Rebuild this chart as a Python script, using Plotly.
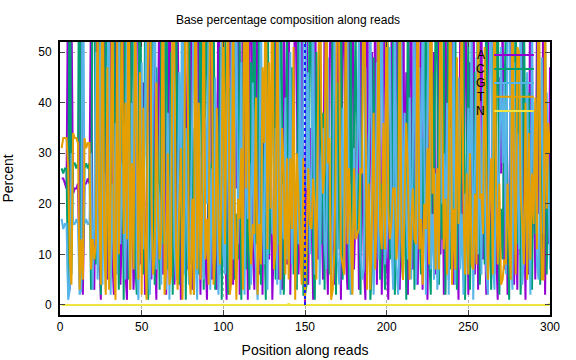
import plotly.graph_objects as go

# ---------------- data (percent per position) ----------------
A = [25, 25, 24, 23, 70, 3, 60, 22, 23, 23, 24, 5, 80, 2, 24, 24, 25, 24, 60, 4,
     3, 28, 64, 12, 1, 40, 72, 18, 5, 33,
     60, 9, 2, 46, 80, 22, 4, 15, 58, 7,
     1, 37, 70, 26, 3, 12, 55, 90, 8, 19,
     44, 2, 16, 62, 30, 5, 77, 11, 1, 35,
     68, 20, 6, 48, 2, 25, 84, 14, 39, 4,
     9, 57, 31, 1, 17, 66, 43, 7, 21, 75,
     3, 13, 50, 88, 24, 2, 36, 61, 10, 1,
     29, 73, 5, 18, 42, 3, 69, 27, 6, 52,
     15, 1, 38, 79, 12, 4, 47, 23, 58, 2,
     20, 65, 8, 31, 1, 54, 86, 11, 3, 40,
     71, 6, 26, 2, 45, 19, 63, 9, 34, 1,
     14, 49, 76, 5, 22, 3, 59, 37, 8, 67,
     2, 30, 12, 82, 41, 6, 18, 55, 27, 0,
     62, 4, 35, 16, 1, 74, 28, 9, 47, 21,
     5, 58, 17, 2, 39, 81, 13, 4, 26, 64,
     33, 1, 48, 70, 10, 3, 56, 24, 87, 7,
     19, 42, 3, 60, 29, 8, 1, 75, 15, 36,
     50, 11, 67, 4, 22, 44, 2, 31, 78, 9,
     1, 27, 53, 16, 5, 69, 38, 3, 20, 84,
     12, 46, 2, 32, 72, 7, 18, 57, 4, 25,
     63, 3, 41, 9, 1, 28, 77, 14, 50, 6,
     22, 80, 10, 35, 2, 61, 19, 5, 43, 68,
     4, 30, 15, 1, 54, 24, 8, 71, 36, 2,
     48, 12, 83, 6, 27, 3, 40, 60, 9, 17,
     2, 65, 21, 5, 34, 89, 11, 1, 45, 26,
     58, 7, 30, 2, 16, 52, 74, 4, 20, 3,
     37, 10, 62, 23, 1, 44, 6, 79, 13, 29,
     5, 55, 18, 40, 8, 70, 2, 33, 12, 47]

C = [27, 26, 27, 27, 2, 85, 6, 28, 28, 27, 28, 90, 4, 8, 27, 28, 27, 28, 3, 80,
     70, 8, 21, 55, 2, 34, 11, 62, 28, 4,
     17, 45, 81, 6, 26, 3, 59, 38, 1, 73,
     30, 5, 14, 66, 42, 9, 2, 24, 85, 13,
     6, 52, 36, 1, 18, 77, 29, 4, 47, 20,
     3, 61, 12, 25, 88, 7, 15, 50, 2, 33,
     74, 19, 4, 40, 10, 56, 1, 27, 68, 8,
     35, 2, 57, 14, 6, 80, 23, 3, 44, 62,
     9, 28, 16, 70, 3, 37, 12, 51, 1, 24,
     67, 13, 2, 43, 31, 75, 5, 18, 9, 56,
     1, 39, 64, 7, 22, 3, 48, 29, 70, 12,
     26, 58, 4, 33, 15, 1, 82, 10, 20, 46,
     63, 5, 27, 12, 71, 38, 2, 16, 54, 9,
     19, 47, 6, 24, 3, 60, 14, 35, 2, 2,
     4, 23, 69, 41, 9, 1, 50, 17, 76, 12,
     38, 3, 57, 21, 6, 15, 66, 30, 2, 44,
     11, 72, 5, 18, 49, 27, 3, 61, 8, 35,
     55, 14, 26, 2, 40, 78, 20, 6, 33, 1,
     7, 49, 11, 30, 62, 5, 24, 13, 3, 70,
     36, 9, 18, 58, 2, 14, 44, 80, 10, 5,
     29, 1, 63, 22, 8, 41, 3, 27, 52, 17,
     6, 33, 15, 74, 25, 10, 2, 46, 18, 61,
     48, 4, 29, 13, 57, 2, 35, 68, 7, 20,
     16, 59, 3, 38, 11, 43, 70, 1, 24, 53,
     3, 22, 9, 46, 16, 79, 4, 12, 34, 8,
     66, 28, 14, 3, 51, 6, 37, 72, 2, 19,
     9, 40, 56, 17, 1, 31, 8, 23, 64, 12,
     47, 2, 18, 60, 27, 5, 42, 10, 3, 35,
     14, 26, 73, 4, 38, 11, 54, 6, 29, 16]

G = [17, 15, 16, 16, 1, 3, 30, 16, 16, 17, 16, 2, 3, 85, 16, 17, 16, 16, 30, 3,
     18, 50, 5, 13, 77, 4, 26, 3, 44, 60,
     2, 24, 9, 36, 6, 65, 12, 28, 17, 5,
     56, 14, 3, 40, 27, 70, 8, 1, 22, 48,
     11, 33, 62, 9, 2, 16, 43, 75, 7, 24,
     20, 4, 54, 15, 3, 38, 1, 30, 57, 12,
     5, 18, 46, 28, 72, 6, 35, 13, 4, 15,
     41, 64, 9, 1, 30, 11, 22, 5, 37, 20,
     58, 3, 27, 8, 45, 19, 2, 14, 66, 10,
     6, 42, 21, 3, 52, 9, 30, 61, 12, 25,
     48, 11, 2, 39, 17, 28, 4, 44, 13, 7,
     1, 20, 62, 18, 8, 55, 3, 33, 27, 14,
     16, 35, 4, 60, 2, 24, 13, 41, 9, 19,
     50, 8, 31, 3, 26, 12, 57, 6, 42, 98,
     23, 46, 10, 28, 65, 6, 17, 38, 4, 29,
     35, 12, 7, 49, 22, 3, 18, 55, 40, 9,
     4, 17, 39, 6, 26, 58, 14, 2, 3, 31,
     13, 30, 56, 11, 5, 7, 47, 16, 28, 60,
     26, 2, 15, 48, 9, 36, 63, 20, 8, 14,
     44, 51, 12, 3, 70, 8, 2, 13, 54, 6,
     38, 17, 9, 41, 5, 29, 66, 4, 20, 47,
     14, 60, 24, 2, 43, 54, 7, 18, 5, 26,
     3, 9, 52, 20, 30, 16, 40, 2, 35, 8,
     61, 4, 33, 45, 7, 18, 2, 22, 14, 39,
     19, 58, 1, 26, 49, 10, 35, 6, 43, 24,
     7, 2, 45, 63, 9, 3, 30, 19, 27, 51,
     28, 44, 6, 57, 70, 12, 3, 48, 10, 34,
     11, 66, 4, 9, 32, 46, 18, 2, 58, 20,
     40, 8, 5, 30, 49, 14, 25, 42, 23, 7]

T = [31, 33, 33, 33, 27, 9, 4, 34, 33, 33, 32, 3, 13, 5, 33, 31, 32, 32, 7, 13,
     9, 12, 58, 20, 4, 80, 15, 2, 47, 3,
     21, 70, 8, 1, 52, 10, 33, 62, 14, 40,
     13, 74, 3, 28, 7, 60, 35, 5, 46, 2,
     39, 13, 1, 57, 84, 21, 6, 10, 44, 18,
     9, 15, 78, 2, 7, 30, 4, 6, 66, 51,
     12, 3, 19, 31, 1, 22, 70, 53, 7, 2,
     21, 2, 84, 7, 40, 5, 19, 71, 9, 17,
     4, 76, 52, 4, 10, 39, 17, 8, 27, 64,
     12, 44, 59, 2, 5, 62, 18, 1, 21, 17,
     31, 3, 86, 23, 60, 15, 8, 16, 14, 41,
     2, 16, 8, 47, 32, 75, 11, 48, 19, 79,
     7, 11, 63, 23, 5, 35, 26, 6, 29, 5,
     29, 15, 51, 1, 30, 22, 11, 4, 29, 1,
     11, 27, 16, 15, 25, 19, 5, 36, 73, 38,
     22, 27, 69, 28, 33, 1, 3, 11, 32, 83,
     52, 10, 8, 6, 65, 12, 27, 13, 2, 27,
     13, 14, 15, 27, 26, 77, 32, 3, 24, 3,
     17, 38, 7, 18, 57, 15, 11, 36, 11, 70,
     19, 13, 17, 23, 23, 9, 16, 64, 16, 5,
     21, 36, 26, 5, 15, 23, 13, 12, 74, 11,
     17, 4, 20, 15, 31, 8, 84, 22, 27, 7,
     27, 7, 69, 32, 11, 21, 6, 25, 75, 4,
     19, 7, 49, 16, 28, 65, 20, 6, 26, 6,
     30, 8, 7, 22, 8, 58, 21, 22, 14, 51,
     25, 5, 20, 29, 6, 72, 22, 8, 24, 4,
     5, 9, 8, 24, 13, 5, 65, 25, 6, 51,
     50, 22, 16, 8, 40, 5, 34, 9, 26, 16,
     41, 11, 74, 26, 5, 5, 59, 19, 36, 30]

N = [0, 0, 0, 0, 0, 0, 0, 0, 0, 0, 0, 0, 0, 0, 0, 0, 0, 0, 0, 0,
     0, 0, 0, 0, 0, 0, 0, 0, 0, 0, 0, 0, 0, 0, 0, 0, 0, 0, 0, 0,
     0, 0, 0, 0, 0, 0, 0, 0, 0, 0, 0, 0, 0, 0, 0, 0, 0, 0, 0, 0,
     0, 0, 0, 0, 0, 0, 0, 0, 0, 0, 0, 0, 0, 0, 0, 0, 0, 0, 0, 0,
     0, 0, 0, 0, 0, 0, 0, 0, 0, 0, 0, 0, 0, 0, 0, 0, 0, 0, 0, 0,
     0, 0, 0, 0, 0, 0, 0, 0, 0, 0, 0, 0, 0, 0, 0, 0, 0, 0, 0, 0,
     0, 0, 0, 0, 0, 0, 0, 0, 0, 0, 0, 0, 0, 0, 0, 0, 0, 0, 0, 0.2,
     0, 0, 0, 0, 0, 0, 0, 0, 0, 0, 0, 0, 0, 0, 0, 0, 0, 0, 0, 0,
     0, 0, 0, 0, 0, 0, 0, 0, 0, 0, 0, 0, 0, 0, 0, 0, 0, 0, 0, 0,
     0, 0, 0, 0, 0, 0, 0, 0, 0, 0, 0, 0, 0, 0, 0, 0, 0, 0, 0, 0,
     0, 0, 0, 0, 0, 0, 0, 0, 0, 0, 0, 0, 0, 0, 0, 0, 0, 0, 0, 0,
     0, 0, 0, 0, 0, 0, 0, 0, 0, 0, 0, 0, 0, 0, 0, 0, 0, 0, 0, 0,
     0, 0, 0, 0, 0, 0, 0, 0, 0, 0, 0, 0, 0, 0, 0, 0, 0, 0, 0, 0,
     0, 0, 0, 0, 0, 0, 0, 0, 0, 0, 0, 0, 0, 0, 0, 0, 0, 0, 0, 0,
     0, 0, 0, 0, 0, 0, 0, 0, 0, 0, 0, 0, 0, 0, 0, 0, 0, 0, 0, 0.3]

SERIES_NAMES = ["A", "C", "G", "T", "N"]
SERIES_COLORS = ["#9400d3", "#009e73", "#56b4e9", "#e69f00", "#f0e442"]
X_TICKS = [0, 50, 100, 150, 200, 250, 300]
Y_TICKS = [0, 10, 20, 30, 40, 50]
READ_BOUNDARY = 150

FONT = "Liberation Sans, Arial, sans-serif"

fig = go.Figure()
for name, vals, col in zip(SERIES_NAMES, [A, C, G, T, N], SERIES_COLORS):
    xs = list(range(1, len(vals) + 1))
    fig.add_trace(go.Scatter(x=xs, y=vals, mode="lines", name=name,
                             line=dict(color=col, width=2),
                             showlegend=False, cliponaxis=True))

# read boundary marker
fig.add_shape(type="line", xref="x", yref="y", x0=READ_BOUNDARY, x1=READ_BOUNDARY,
              y0=0, y1=52, line=dict(color="#1a1aff", width=2, dash="dot"), layer="above")

# gnuplot-style legend: label then line sample, top right inside plot
leg_y = [0.952, 0.901, 0.850, 0.799, 0.747]
for name, col, yy in zip(SERIES_NAMES, SERIES_COLORS, leg_y):
    fig.add_annotation(x=0.872, y=yy, xref="paper", yref="paper", text=name,
                       showarrow=False, xanchor="right", yanchor="middle",
                       font=dict(family=FONT, size=12, color="black"))
    fig.add_shape(type="line", xref="paper", yref="paper", x0=0.886, x1=0.967,
                  y0=yy, y1=yy, line=dict(color=col, width=2), layer="above")

fig.update_layout(
    width=576, height=360,
    margin=dict(l=60, r=26, t=42, b=45, autoexpand=False),
    paper_bgcolor="white", plot_bgcolor="white",
    font=dict(family=FONT, size=12, color="black"),
    title=dict(text="Base percentage composition along reads", x=0.5, xanchor="center",
               y=1 - 20 / 360, yanchor="middle", font=dict(family=FONT, size=12)),
)
fig.update_xaxes(range=[0, 300], tickvals=X_TICKS, ticks="inside", ticklen=5,
                 showline=True, linecolor="black", linewidth=2, mirror="ticks",
                 showgrid=True, gridcolor="#b0b0b0", griddash="dot", gridwidth=1,
                 zeroline=False, automargin=False,
                 title=dict(text="Position along reads", standoff=12))
fig.update_yaxes(range=[-2, 52], tickvals=Y_TICKS, ticks="inside", ticklen=5,
                 showline=True, linecolor="black", linewidth=2, mirror="ticks",
                 showgrid=True, gridcolor="#b0b0b0", griddash="dot", gridwidth=1,
                 zeroline=False, ticklabelstandoff=4, automargin=False,
                 title=dict(text="Percent", standoff=22))

fig.write_html("out.html")
